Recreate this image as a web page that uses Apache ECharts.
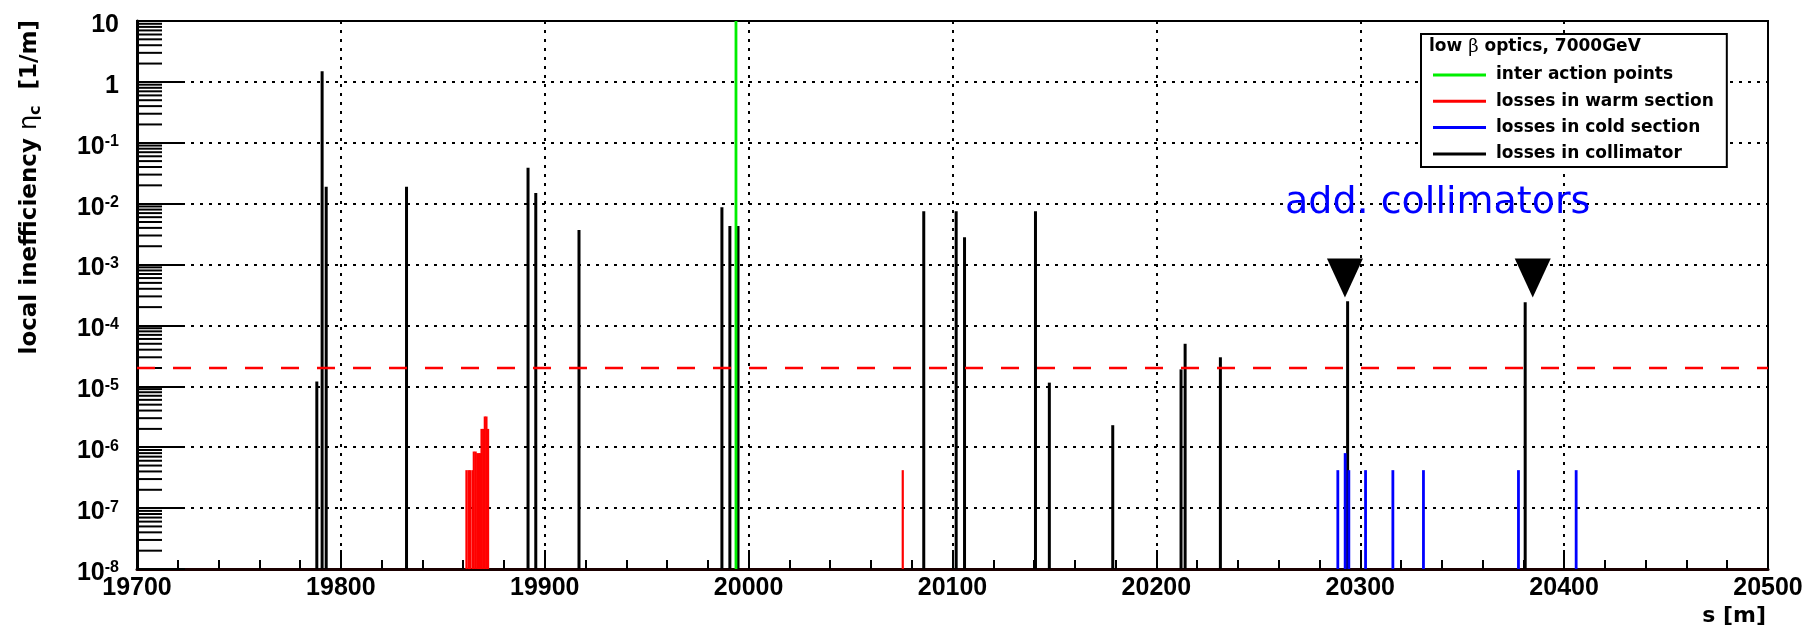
<!DOCTYPE html>
<html><head><meta charset="utf-8">
<script src="https://cdn.jsdelivr.net/npm/echarts@6/dist/echarts.min.js"></script>
<style>html,body{margin:0;padding:0;background:#fff}#c{width:1805px;height:629px}</style>
</head><body><div id="c"></div>
<script>
// ---- data (s [m], local inefficiency [1/m]) ----
const S_MIN = 19700, S_MAX = 20500, S_STEP = 100;
const Y_MIN = 1e-8, Y_MAX = 10;
const interactionPoints = [[19993.8, 10]];
const warmLosses = [
  [19861.6, 4.2e-7], [19862.6, 4.2e-7], [19863.3, 4.2e-7],
  [19864.5, 4.2e-7], [19865.2, 8.5e-7], [19866.1, 8.5e-7],
  [19866.9, 8.0e-7], [19867.7, 8.0e-7], [19868.4, 8.0e-7],
  [19869.0, 2.0e-6], [19869.8, 2.0e-6], [19870.6, 3.2e-6],
  [19871.4, 3.2e-6], [19872.2, 2.0e-6], [20075.6, 4.2e-7]
];
const coldLosses = [
  [20289.0, 4.2e-7], [20292.6, 8.0e-7], [20294.4, 4.2e-7], [20302.6, 4.2e-7],
  [20316.0, 4.2e-7], [20331.0, 4.2e-7], [20377.6, 4.2e-7], [20405.9, 4.2e-7]
];
const collimatorLosses = [
  [19788.2, 1.2e-5], [19790.8, 1.5], [19792.8, 0.019], [19832.2, 0.019],
  [19891.8, 0.039], [19895.6, 0.015], [19916.8, 0.0037], [19986.9, 0.0087],
  [19990.8, 0.0043], [19994.8, 0.0043], [20085.9, 0.0075], [20101.8, 0.0075],
  [20105.9, 0.0028], [20140.7, 0.0075], [20147.5, 1.15e-5], [20178.6, 2.3e-6],
  [20212.1, 1.9e-5], [20214.1, 5.0e-5], [20231.4, 3.0e-5], [20293.8, 2.5e-4],
  [20380.9, 2.4e-4]
];
const thresholdValue = 2e-5;
const addCollimatorMarkers = [[20292.5, 6.0e-4], [20384.6, 6.0e-4]];
const legendNames = ['inter action points', 'losses in warm section', 'losses in cold section', 'losses in collimator'];
const minorMultipliers = [2, 3, 4, 5, 6, 7, 8, 9];
const decadeStarts = [1e-8, 1e-7, 1e-6, 1e-5, 1e-4, 1e-3, 1e-2, 1e-1, 1];

const yMinorTicks = [];
decadeStarts.forEach(d => minorMultipliers.forEach(m => yMinorTicks.push([S_MIN, +(d * m).toPrecision(3)])));

const LBL = 'Liberation Sans, Arial, Helvetica, sans-serif';
const DJ = 'DejaVu Sans, Verdana, sans-serif';

function stickSeries(name, data, color, width, z) {
  return {
    type: 'custom', name, data, z, clip: true, itemStyle: { color },
    renderItem(params, api) {
      const top = api.coord([api.value(0), api.value(1)]);
      const base = api.coord([api.value(0), Y_MIN]);
      return { type: 'line', shape: { x1: top[0], y1: base[1], x2: top[0], y2: top[1] },
               style: { stroke: color, lineWidth: width } };
    }
  };
}

const chart = echarts.init(document.getElementById('c'), null, { renderer: 'canvas' });
chart.setOption({
  animation: false,
  backgroundColor: '#fff',
  grid: { left: 137, right: 37, top: 21, bottom: 60, show: true, borderColor: '#000', borderWidth: 2, backgroundColor: 'transparent', outerBoundsMode: 'none' },
  xAxis: {
    type: 'value', min: S_MIN, max: S_MAX, interval: S_STEP,
    axisLine: { show: true, lineStyle: { color: '#1a0000', width: 3 } },
    axisTick: { show: true, inside: true, length: 19, lineStyle: { color: '#000', width: 2 } },
    minorTick: { show: true, splitNumber: 5, length: 9, lineStyle: { color: '#000', width: 2 } },
    axisLabel: { margin: 7, color: '#000', fontFamily: LBL, fontWeight: 'bold', fontSize: 25, showMinLabel: true, showMaxLabel: true, hideOverlap: false,
      formatter: v => String(v) },
    splitLine: { show: true, lineStyle: { color: '#000', width: 2, type: [3, 6] } }
  },
  yAxis: {
    type: 'log', logBase: 10, min: Y_MIN, max: Y_MAX, splitNumber: 9,
    axisLine: { show: true, lineStyle: { color: '#000', width: 3 } },
    axisTick: { show: true, inside: true, length: 48, lineStyle: { color: '#000', width: 2 } },
    minorTick: { show: false },
    axisLabel: {
      margin: 18, color: '#000', showMinLabel: true, showMaxLabel: true, hideOverlap: false,
      formatter(v) {
        const k = Math.round(Math.log10(v));
        if (k === 1) return '{b|10}';
        if (k === 0) return '{b|1}';
        return '{b|10}{s|' + k + '}';
      },
      rich: {
        b: { fontFamily: LBL, fontWeight: 'bold', fontSize: 25, lineHeight: 26, padding: [8, 0, 0, 0], color: '#000' },
        s: { fontFamily: LBL, fontWeight: 'bold', fontSize: 16, lineHeight: 16, verticalAlign: 'top', padding: [4, 0, 0, 0], color: '#000' }
      }
    },
    splitLine: { show: true, lineStyle: { color: '#000', width: 2, type: [3, 6] } }
  },
  legend: {
    left: 1421, top: 34, orient: 'vertical',
    data: [
      { name: legendNames[0], icon: 'rect', itemStyle: { color: '#00ee00' } },
      { name: legendNames[1], icon: 'rect', itemStyle: { color: '#ff0000' } },
      { name: legendNames[2], icon: 'rect', itemStyle: { color: '#0000ff' } },
      { name: legendNames[3], icon: 'rect', itemStyle: { color: '#000000' } }
    ],
    itemWidth: 53, itemHeight: 3, itemGap: 6.3,
    padding: [31, 13, 3, 12],
    backgroundColor: '#fff', borderColor: '#000', borderWidth: 2,
    selectedMode: false,
    textStyle: { fontFamily: DJ, fontWeight: 'bold', fontSize: 17, lineHeight: 20, color: '#000', padding: [0, 0, 0, 5] }
  },
  graphic: [
    { type: 'text', x: 1429, y: 47, z: 100,
      style: { text: '{b|low }{g|β}{b| optics, 7000GeV}', verticalAlign: 'middle',
        rich: { b: { fontFamily: DJ, fontWeight: 'bold', fontSize: 17, fill: '#000' },
                g: { fontFamily: 'DejaVu Serif, serif', fontSize: 18, fill: '#000' } } } },
    { type: 'text', x: 30, y: 20, rotation: Math.PI / 2, z: 100,
      style: { text: '{t|local inefficiency }{g|η}{sub|c}{t|  [1/m]}', align: 'right', verticalAlign: 'middle',
        rich: { t: { fontFamily: DJ, fontWeight: 'bold', fontSize: 23, lineHeight: 28, fill: '#000' },
                g: { fontFamily: DJ, fontSize: 24, lineHeight: 28, fill: '#000' },
                sub: { fontFamily: DJ, fontWeight: 'bold', fontSize: 16, lineHeight: 16, verticalAlign: 'bottom', fill: '#000' } } } },
    { type: 'text', x: 1766, y: 616, z: 100,
      style: { text: 's [m]', align: 'right', verticalAlign: 'middle', fontFamily: DJ, fontWeight: 'bold', fontSize: 22, fill: '#000' } },
    { type: 'text', x: 1285, y: 203, z: 100,
      style: { text: 'add. collimators', verticalAlign: 'middle', fontFamily: DJ, fontSize: 38, fill: '#0000ff' } }
  ],
  series: [
    {
      type: 'custom', name: 'yMinorTicks', data: yMinorTicks, z: 5, silent: true,
      renderItem(params, api) {
        const p = api.coord([api.value(0), api.value(1)]);
        return { type: 'line', shape: { x1: p[0], y1: p[1], x2: p[0] + 25, y2: p[1] }, style: { stroke: '#000', lineWidth: 2 } };
      }
    },
    stickSeries(legendNames[3], collimatorLosses, '#000000', 3, 3),
    stickSeries(legendNames[2], coldLosses, '#0000ff', 2.8, 4),
    stickSeries(legendNames[1], warmLosses, '#ff0000', 2.2, 4),
    stickSeries(legendNames[0], interactionPoints, '#00ee00', 2.8, 4),
    {
      type: 'line', name: 'threshold', data: [[S_MIN, thresholdValue], [S_MAX, thresholdValue]],
      symbol: 'none', silent: true, z: 6,
      lineStyle: { color: '#ff0000', width: 2.5, type: [18, 18] }
    },
    {
      type: 'scatter', name: 'markers', data: addCollimatorMarkers, symbol: 'triangle', symbolRotate: 180,
      symbolSize: [36, 39], itemStyle: { color: '#000', opacity: 1 }, silent: true, z: 7
    }
  ]
});
</script></body></html>
